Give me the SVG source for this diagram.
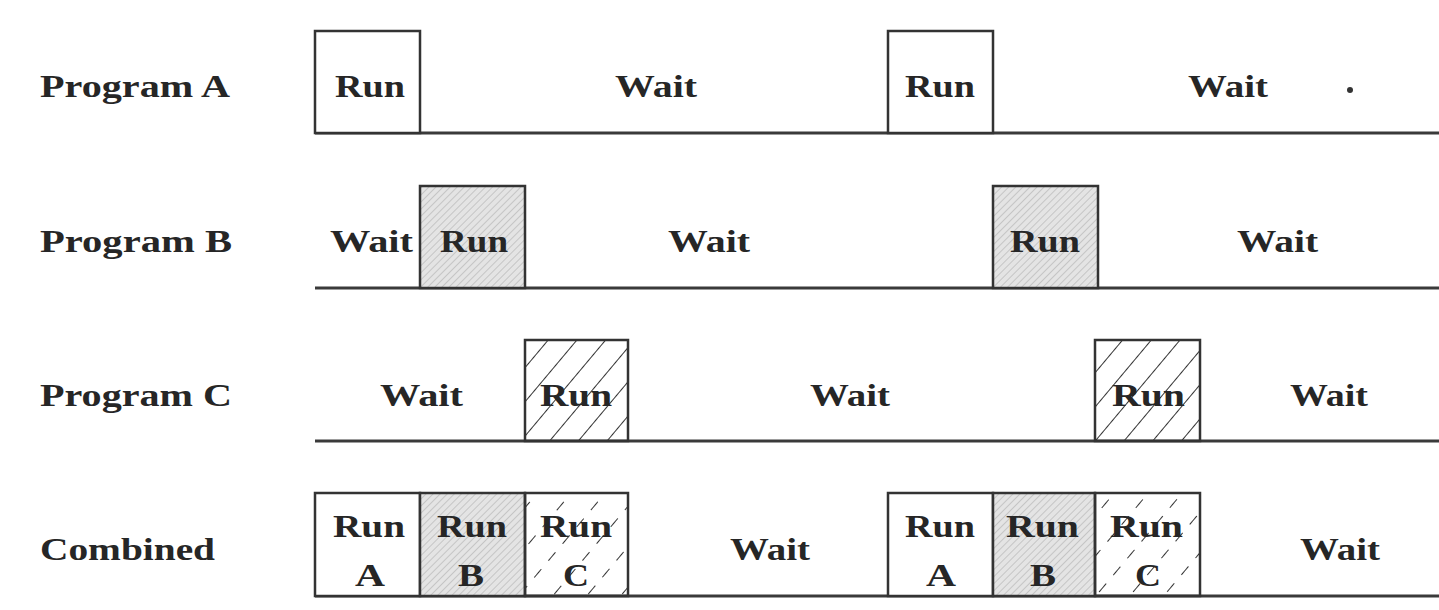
<svg xmlns="http://www.w3.org/2000/svg" width="1439" height="610" viewBox="0 0 1439 610">
<defs>
<pattern id="hatchB" width="5" height="5" patternUnits="userSpaceOnUse" patternTransform="rotate(45)">
<rect width="5" height="5" fill="#e4e4e4"/>
<line x1="0" y1="0" x2="0" y2="5" stroke="#b8b8b8" stroke-width="1.4"/>
</pattern>
<pattern id="hatchC" width="22" height="22" patternUnits="userSpaceOnUse" patternTransform="rotate(40)">
<line x1="0" y1="0" x2="0" y2="22" stroke="#333" stroke-width="2"/>
</pattern>
<pattern id="hatchCd" width="26" height="44" patternUnits="userSpaceOnUse" patternTransform="rotate(40)">
<line x1="0" y1="0" x2="0" y2="44" stroke="#333" stroke-width="2" stroke-dasharray="11 11"/>
</pattern>
<style>
.t{font-family:"Liberation Serif","Times New Roman",serif;font-weight:bold;font-size:32px;fill:#262626}
.box{stroke:#333;stroke-width:2.5}
.plain{fill:#fff}
.b{fill:url(#hatchB)}
.c{fill:url(#hatchC)}
.cd{fill:url(#hatchCd)}
.tl{stroke:#3a3a3a;stroke-width:3;fill:none}
</style>
</defs>
<rect width="1439" height="610" fill="#fff"/>

<g id="labels">
<text class="t" x="40" y="97" textLength="190" lengthAdjust="spacingAndGlyphs">Program A</text>
<text class="t" x="40" y="252" textLength="192" lengthAdjust="spacingAndGlyphs">Program B</text>
<text class="t" x="40" y="406" textLength="192" lengthAdjust="spacingAndGlyphs">Program C</text>
<text class="t" x="40" y="560" textLength="175" lengthAdjust="spacingAndGlyphs">Combined</text>
</g>

<g id="connectors">
<line class="tl" x1="315" y1="133" x2="1439" y2="133"/>
<line class="tl" x1="315" y1="288" x2="1439" y2="288"/>
<line class="tl" x1="315" y1="441" x2="1439" y2="441"/>
<line class="tl" x1="315" y1="596" x2="1439" y2="596"/>
</g>

<g id="rowA">
<g id="a-run1"><rect class="box plain" x="315" y="31" width="105" height="102"/>
<text class="t" x="335" y="97" textLength="70" lengthAdjust="spacingAndGlyphs">Run</text></g>
<g id="a-wait1"><text class="t" x="615" y="97" textLength="82" lengthAdjust="spacingAndGlyphs">Wait</text></g>
<g id="a-run2"><rect class="box plain" x="888" y="31" width="105" height="102"/>
<text class="t" x="905" y="97" textLength="70" lengthAdjust="spacingAndGlyphs">Run</text></g>
<g id="a-wait2"><text class="t" x="1188" y="97" textLength="80" lengthAdjust="spacingAndGlyphs">Wait</text>
<circle cx="1350" cy="90" r="3" fill="#333"/></g>
</g>

<g id="rowB">
<g id="b-wait1"><text class="t" x="330" y="252" textLength="83" lengthAdjust="spacingAndGlyphs">Wait</text></g>
<g id="b-run1"><rect class="box b" x="420" y="186" width="105" height="102"/>
<text class="t" x="440" y="252" textLength="68" lengthAdjust="spacingAndGlyphs">Run</text></g>
<g id="b-wait2"><text class="t" x="668" y="252" textLength="82" lengthAdjust="spacingAndGlyphs">Wait</text></g>
<g id="b-run2"><rect class="box b" x="993" y="186" width="105" height="102"/>
<text class="t" x="1010" y="252" textLength="70" lengthAdjust="spacingAndGlyphs">Run</text></g>
<g id="b-wait3"><text class="t" x="1237" y="252" textLength="81" lengthAdjust="spacingAndGlyphs">Wait</text></g>
</g>

<g id="rowC">
<g id="c-wait1"><text class="t" x="380" y="406" textLength="83" lengthAdjust="spacingAndGlyphs">Wait</text></g>
<g id="c-run1"><rect class="box c" x="525" y="340" width="103" height="101"/>
<text class="t" x="540" y="406" textLength="72" lengthAdjust="spacingAndGlyphs">Run</text></g>
<g id="c-wait2"><text class="t" x="810" y="406" textLength="80" lengthAdjust="spacingAndGlyphs">Wait</text></g>
<g id="c-run2"><rect class="box c" x="1095" y="340" width="105" height="101"/>
<text class="t" x="1112" y="406" textLength="73" lengthAdjust="spacingAndGlyphs">Run</text></g>
<g id="c-wait3"><text class="t" x="1290" y="406" textLength="78" lengthAdjust="spacingAndGlyphs">Wait</text></g>
</g>

<g id="rowCombined">
<g id="m-runA1"><rect class="box plain" x="315" y="493" width="105" height="103"/>
<text class="t" x="333" y="537" textLength="72" lengthAdjust="spacingAndGlyphs">Run</text>
<text class="t" x="355" y="586" textLength="30" lengthAdjust="spacingAndGlyphs">A</text></g>
<g id="m-runB1"><rect class="box b" x="420" y="493" width="105" height="103"/>
<text class="t" x="437" y="537" textLength="70" lengthAdjust="spacingAndGlyphs">Run</text>
<text class="t" x="458" y="586" textLength="26" lengthAdjust="spacingAndGlyphs">B</text></g>
<g id="m-runC1"><rect class="box cd" x="525" y="493" width="103" height="103"/>
<text class="t" x="540" y="537" textLength="72" lengthAdjust="spacingAndGlyphs">Run</text>
<text class="t" x="563" y="586" textLength="26" lengthAdjust="spacingAndGlyphs">C</text></g>
<g id="m-wait1"><text class="t" x="730" y="560" textLength="80" lengthAdjust="spacingAndGlyphs">Wait</text></g>
<g id="m-runA2"><rect class="box plain" x="888" y="493" width="105" height="103"/>
<text class="t" x="905" y="537" textLength="70" lengthAdjust="spacingAndGlyphs">Run</text>
<text class="t" x="926" y="586" textLength="30" lengthAdjust="spacingAndGlyphs">A</text></g>
<g id="m-runB2"><rect class="box b" x="993" y="493" width="102" height="103"/>
<text class="t" x="1006" y="537" textLength="73" lengthAdjust="spacingAndGlyphs">Run</text>
<text class="t" x="1030" y="586" textLength="26" lengthAdjust="spacingAndGlyphs">B</text></g>
<g id="m-runC2"><rect class="box cd" x="1095" y="493" width="105" height="103"/>
<text class="t" x="1110" y="537" textLength="73" lengthAdjust="spacingAndGlyphs">Run</text>
<text class="t" x="1135" y="586" textLength="26" lengthAdjust="spacingAndGlyphs">C</text></g>
<g id="m-wait2"><text class="t" x="1300" y="560" textLength="80" lengthAdjust="spacingAndGlyphs">Wait</text></g>
</g>
</svg>
